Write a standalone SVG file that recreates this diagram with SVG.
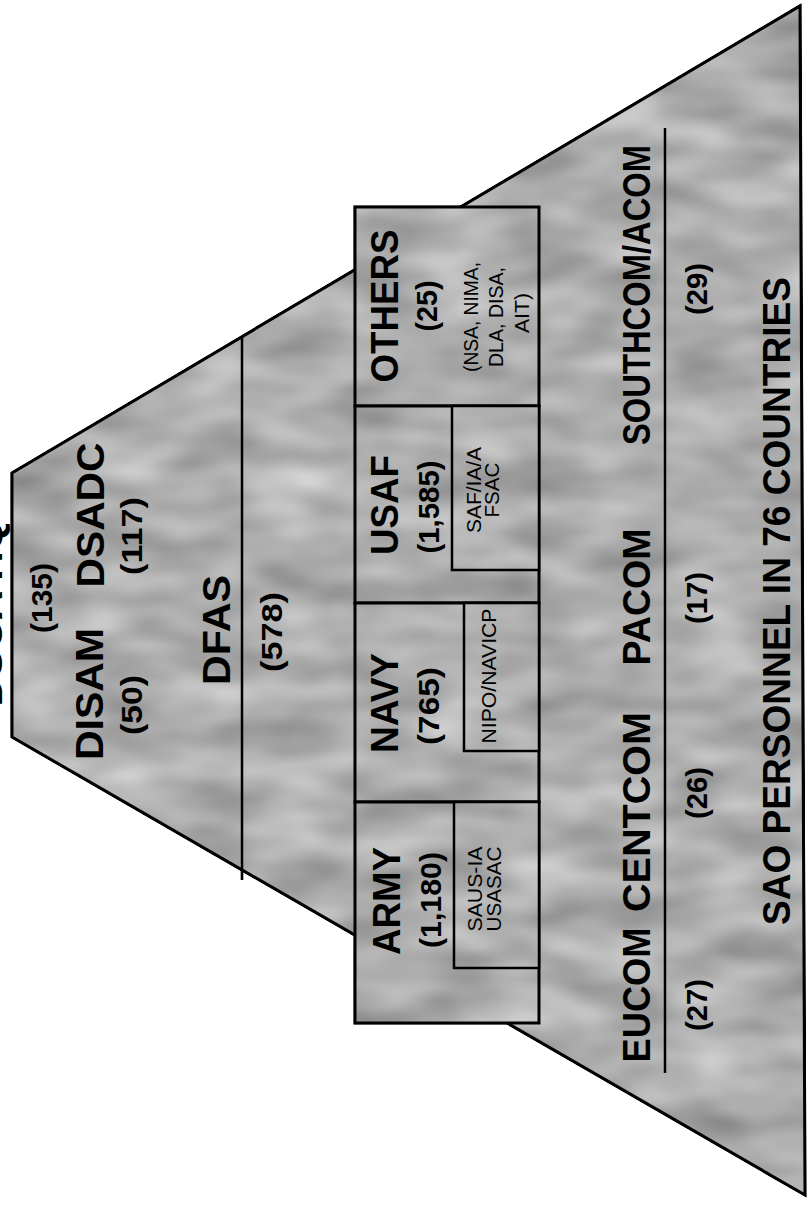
<svg xmlns="http://www.w3.org/2000/svg" width="809" height="1205" viewBox="0 0 809 1205">
<defs>
<style>
.bg{fill:#fff}
.shade{fill:#ababab;stroke:#000;stroke-width:3;stroke-linejoin:miter}
.sub{fill:#ababab;stroke:#000;stroke-width:2.5}
.sep{stroke:#000;stroke-width:2.5;fill:none}
text{font-family:"Liberation Sans",Arial,Helvetica,sans-serif;fill:#000;text-anchor:middle}
.big{font-weight:bold;font-size:39px}
.num{font-weight:bold;font-size:30px}
.sm{font-size:20px}
</style>
<filter id="mottle" filterUnits="userSpaceOnUse" x="0" y="0" width="809" height="1205" color-interpolation-filters="sRGB">
<feTurbulence type="fractalNoise" baseFrequency="0.012 0.028" numOctaves="2" seed="7" result="n"/>
<feColorMatrix in="n" type="matrix" values="1 0 0 0 0  1 0 0 0 0  1 0 0 0 0  0 0 0 0 1" result="g"/>
<feComposite in="SourceGraphic" in2="g" operator="arithmetic" k1="0.55" k2="0.74" k3="0" k4="0"/>
</filter>
</defs>
<rect class="bg" x="0" y="0" width="809" height="1205"/>
<g filter="url(#mottle)">
<g id="pyramid">
<polygon class="shade" points="12,473 800,6 805,1195 12,737"/>
</g>
<g id="connectors">
<line class="sep" x1="242" y1="337" x2="242" y2="880"/>
<line class="sep" x1="665" y1="128" x2="665" y2="1073"/>
</g>
<g id="others-box"><rect class="shade" x="355" y="207" width="184" height="199"/></g>
<g id="usaf-box"><rect class="shade" x="355" y="406" width="184" height="197"/><rect class="sub" x="452" y="406" width="87" height="164"/></g>
<g id="navy-box"><rect class="shade" x="355" y="603" width="184" height="199"/><rect class="sub" x="464" y="603" width="75" height="148"/></g>
<g id="army-box"><rect class="shade" x="355" y="802" width="184" height="221"/><rect class="sub" x="454" y="802" width="85" height="166"/></g>
</g>
<g id="dsca">
<text class="big" textLength="187" lengthAdjust="spacingAndGlyphs" transform="translate(2,613) rotate(-90)">DSCA HQ</text>
<text class="num" textLength="70" lengthAdjust="spacingAndGlyphs" transform="translate(52,598) rotate(-90)">(135)</text>
</g>
<g id="disam">
<text class="big" textLength="132" lengthAdjust="spacingAndGlyphs" transform="translate(103,694) rotate(-90)">DISAM</text>
<text class="num" textLength="60" lengthAdjust="spacingAndGlyphs" transform="translate(142,705) rotate(-90)">(50)</text>
</g>
<g id="dsadc">
<text class="big" textLength="145" lengthAdjust="spacingAndGlyphs" transform="translate(104,515) rotate(-90)">DSADC</text>
<text class="num" textLength="78" lengthAdjust="spacingAndGlyphs" transform="translate(142,536) rotate(-90)">(117)</text>
</g>
<g id="dfas">
<text class="big" textLength="110" lengthAdjust="spacingAndGlyphs" transform="translate(230,630) rotate(-90)">DFAS</text>
<text class="num" textLength="80" lengthAdjust="spacingAndGlyphs" transform="translate(282,632) rotate(-90)">(578)</text>
</g>
<g id="others">
<text class="big" textLength="153" lengthAdjust="spacingAndGlyphs" transform="translate(398,306) rotate(-90)">OTHERS</text>
<text class="num" textLength="51" lengthAdjust="spacingAndGlyphs" transform="translate(437,306) rotate(-90)">(25)</text>
<text class="sm" textLength="110" lengthAdjust="spacingAndGlyphs" transform="translate(478,317) rotate(-90)">(NSA, NIMA,</text>
<text class="sm" textLength="100" lengthAdjust="spacingAndGlyphs" transform="translate(503,317) rotate(-90)">DLA, DISA,</text>
<text class="sm" textLength="40" lengthAdjust="spacingAndGlyphs" transform="translate(529,313) rotate(-90)">AIT)</text>
</g>
<g id="usaf">
<text class="big" textLength="100" lengthAdjust="spacingAndGlyphs" transform="translate(398,505) rotate(-90)">USAF</text>
<text class="num" textLength="93" lengthAdjust="spacingAndGlyphs" transform="translate(439,507) rotate(-90)">(1,585)</text>
<text class="sm" textLength="86" lengthAdjust="spacingAndGlyphs" transform="translate(481,490) rotate(-90)">SAF/IA/A</text>
<text class="sm" textLength="55" lengthAdjust="spacingAndGlyphs" transform="translate(499,490) rotate(-90)">FSAC</text>
</g>
<g id="navy">
<text class="big" textLength="100" lengthAdjust="spacingAndGlyphs" transform="translate(398,703) rotate(-90)">NAVY</text>
<text class="num" textLength="78" lengthAdjust="spacingAndGlyphs" transform="translate(439,706) rotate(-90)">(765)</text>
<text class="sm" textLength="135" lengthAdjust="spacingAndGlyphs" transform="translate(496,676) rotate(-90)">NIPO/NAVICP</text>
</g>
<g id="army">
<text class="big" textLength="108" lengthAdjust="spacingAndGlyphs" transform="translate(400,901) rotate(-90)">ARMY</text>
<text class="num" textLength="96" lengthAdjust="spacingAndGlyphs" transform="translate(441,900) rotate(-90)">(1,180)</text>
<text class="sm" textLength="85" lengthAdjust="spacingAndGlyphs" transform="translate(482,889) rotate(-90)">SAUS-IA</text>
<text class="sm" textLength="85" lengthAdjust="spacingAndGlyphs" transform="translate(501,889) rotate(-90)">USASAC</text>
</g>
<g id="eucom">
<text class="big" textLength="135" lengthAdjust="spacingAndGlyphs" transform="translate(650,995) rotate(-90)">EUCOM</text>
<text class="num" textLength="52" lengthAdjust="spacingAndGlyphs" transform="translate(707,1005) rotate(-90)">(27)</text>
</g>
<g id="centcom">
<text class="big" textLength="200" lengthAdjust="spacingAndGlyphs" transform="translate(650,812) rotate(-90)">CENTCOM</text>
<text class="num" textLength="52" lengthAdjust="spacingAndGlyphs" transform="translate(707,793) rotate(-90)">(26)</text>
</g>
<g id="pacom">
<text class="big" textLength="137" lengthAdjust="spacingAndGlyphs" transform="translate(650,597) rotate(-90)">PACOM</text>
<text class="num" textLength="52" lengthAdjust="spacingAndGlyphs" transform="translate(707,598) rotate(-90)">(17)</text>
</g>
<g id="southcom">
<text class="big" textLength="300" lengthAdjust="spacingAndGlyphs" transform="translate(650,295) rotate(-90)">SOUTHCOM/ACOM</text>
<text class="num" textLength="52" lengthAdjust="spacingAndGlyphs" transform="translate(707,289) rotate(-90)">(29)</text>
</g>
<g id="sao">
<text class="big" textLength="648" lengthAdjust="spacingAndGlyphs" transform="translate(790,601) rotate(-90)">SAO PERSONNEL IN 76 COUNTRIES</text>
</g>
</svg>
